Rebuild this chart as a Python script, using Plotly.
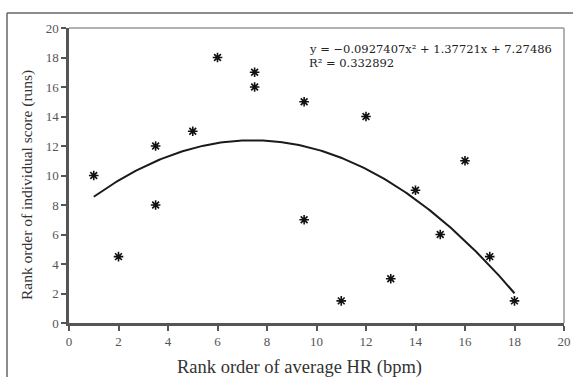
import plotly.graph_objects as go
import numpy as np

hr_rank = [1, 2, 3.5, 3.5, 5, 6, 7.5, 7.5, 9.5, 9.5, 11, 12, 13, 14, 15, 16, 17, 18]
score_rank = [10, 4.5, 12, 8, 13, 18, 17, 16, 15, 7, 1.5, 14, 3, 9, 6, 11, 4.5, 1.5]
coef = [-0.0927407, 1.37721, 7.27486]
x_ticks = [0, 2, 4, 6, 8, 10, 12, 14, 16, 18, 20]
y_ticks = [0, 2, 4, 6, 8, 10, 12, 14, 16, 18, 20]

W, H = 573, 377
L, R, T, B = 69, 9, 28, 54

xf = np.linspace(min(hr_rank), max(hr_rank), 200)
yf = coef[0] * xf**2 + coef[1] * xf + coef[2]

fig = go.Figure()
fig.add_trace(go.Scatter(x=xf, y=yf, mode="lines",
                         line=dict(color="#1a1a1a", width=2), hoverinfo="skip"))
fig.add_trace(go.Scatter(x=hr_rank, y=score_rank, mode="markers",
                         marker=dict(symbol="asterisk-open", size=8, color="#111",
                                     line=dict(color="#111", width=1.6))))

serif = "Liberation Serif, Times New Roman, serif"
axis_common = dict(showgrid=False, zeroline=False, ticks="outside", ticklen=5,
                   tickwidth=1.5, tickcolor="#555", showline=True, linecolor="#555",
                   linewidth=2.5, tickfont=dict(family=serif, size=13, color="#555"),
                   mirror=False, automargin=False)
fig.update_xaxes(range=[0, 20], tickvals=x_ticks, **axis_common)
fig.update_yaxes(range=[0, 20], tickvals=y_ticks, **axis_common)

def px2paper_x(px):
    return (px - L) / (W - L - R)

def px2paper_y(py):
    return 1 - (py - T) / (H - T - B)

shapes = [
    dict(type="line", xref="paper", yref="paper", x0=0, x1=1, y0=1, y1=1,
         line=dict(color="#999", width=1.5)),
    dict(type="line", xref="paper", yref="paper", x0=1, x1=1, y0=0, y1=1,
         line=dict(color="#999", width=1.5)),
    dict(type="line", xref="paper", yref="paper", x0=px2paper_x(7), x1=px2paper_x(573),
         y0=px2paper_y(13), y1=px2paper_y(13), line=dict(color="#666", width=1.5)),
    dict(type="line", xref="paper", yref="paper", x0=px2paper_x(7), x1=px2paper_x(7),
         y0=px2paper_y(13), y1=px2paper_y(377), line=dict(color="#666", width=1.5)),
]

eq_font = dict(family="DejaVu Serif, serif", size=11.5, color="#222")
annotations = [
    dict(xref="paper", yref="paper", x=px2paper_x(307), y=px2paper_y(48.5),
         xanchor="left", yanchor="middle", showarrow=False,
         text="y = \u22120.0927407x\u00b2 + 1.37721x + 7.27486", font=eq_font),
    dict(xref="paper", yref="paper", x=px2paper_x(307), y=px2paper_y(63),
         xanchor="left", yanchor="middle", showarrow=False,
         text="R\u00b2 = 0.332892", font=eq_font),
    dict(xref="paper", yref="paper", x=px2paper_x(299), y=px2paper_y(367),
         xanchor="center", yanchor="middle", showarrow=False,
         text="Rank order of average HR (bpm)",
         font=dict(family=serif, size=18.5, color="#333")),
    dict(xref="paper", yref="paper", x=px2paper_x(27), y=px2paper_y(185),
         xanchor="center", yanchor="middle", showarrow=False, textangle=-90,
         text="Rank order of individual score (runs)",
         font=dict(family=serif, size=15.5, color="#333")),
]

fig.update_layout(
    width=W, height=H, margin=dict(l=L, r=R, t=T, b=B),
    plot_bgcolor="white", paper_bgcolor="white", showlegend=False,
    shapes=shapes, annotations=annotations,
)

fig.write_html("out.html", config={"displayModeBar": False},
               post_script="document.body.style.margin='0';document.body.style.padding='0';")
